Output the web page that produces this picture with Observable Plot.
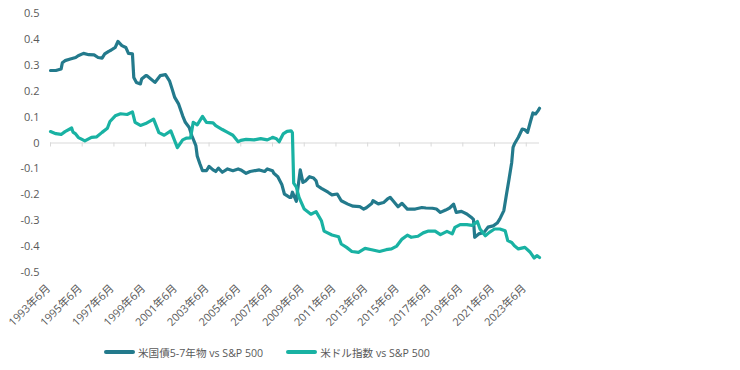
<!DOCTYPE html>
<html><head><meta charset="utf-8">
<script src="https://cdn.jsdelivr.net/npm/d3@7"></script>
<script src="https://cdn.jsdelivr.net/npm/@observablehq/plot@0.6"></script>
<style>
body{margin:0;background:#fff;font-family:"Open Sans","Noto Sans CJK JP",sans-serif;}
#legend{height:30px;display:flex;align-items:center;padding-left:104px;font-size:10.6px;color:#595959;}
.item{display:flex;align-items:center;margin-right:23px;}
.sw{width:31px;height:4px;border-radius:2px;margin-right:3px;}
</style></head><body>
<div id="chart"></div>
<div id="legend"></div>
<script>
const seriesNames = ["米国債5-7年物 vs S&P 500", "米ドル指数 vs S&P 500"];
const seriesColors = ["#237a8c", "#19b2a3"];
const xTickLabels = ["1993年6月","1995年6月","1997年6月","1999年6月","2001年6月","2003年6月","2005年6月","2007年6月","2009年6月","2011年6月","2013年6月","2015年6月","2017年6月","2019年6月","2021年6月","2023年6月"];
const yTicks = [0.5,0.4,0.3,0.2,0.1,0,-0.1,-0.2,-0.3,-0.4,-0.5];

const bondDates = ["1993-06","1993-10","1994-02","1994-03","1994-05","1994-09","1995-01","1995-03","1995-07","1995-11","1996-03","1996-06","1996-09","1996-11","1997-02","1997-04","1997-07","1997-09","1997-12","1998-03","1998-05","1998-08","1998-09","1998-11","1999-02","1999-03","1999-06","1999-07","2000-01","2000-05","2000-09","2000-12","2001-02","2001-04","2001-07","2001-10","2001-12","2002-03","2002-05","2002-08","2002-09","2002-11","2003-01","2003-04","2003-06","2003-09","2003-11","2004-01","2004-04","2004-08","2004-12","2005-04","2005-06","2005-10","2006-01","2006-08","2006-12","2007-02","2007-06","2007-07","2007-10","2008-01","2008-03","2008-04","2008-07","2008-08","2008-09","2008-12","2009-01","2009-03","2009-05","2009-07","2009-10","2010-01","2010-03","2010-04","2010-07","2010-12","2011-03","2011-07","2011-10","2012-03","2012-07","2012-12","2013-03","2013-05","2013-09","2013-10","2014-02","2014-06","2014-09","2014-11","2015-01","2015-05","2015-08","2015-12","2016-06","2016-11","2017-02","2017-07","2017-10","2018-01","2018-05","2018-08","2018-11","2019-01","2019-05","2019-09","2020-01","2020-02","2020-03","2020-06","2020-10","2021-01","2021-05","2021-08","2021-10","2022-01","2022-03","2022-05","2022-07","2022-08","2022-09","2022-12","2023-03","2023-05","2023-07","2023-09","2023-11","2024-01","2024-03","2024-04"];
const bondValues = [0.28,0.28,0.286,0.31,0.318,0.324,0.33,0.337,0.346,0.341,0.34,0.33,0.328,0.344,0.354,0.359,0.369,0.392,0.376,0.369,0.346,0.344,0.253,0.234,0.228,0.247,0.26,0.26,0.234,0.26,0.264,0.24,0.208,0.176,0.15,0.105,0.08,0.06,0.028,-0.01,-0.05,-0.08,-0.107,-0.107,-0.09,-0.104,-0.11,-0.097,-0.113,-0.1,-0.107,-0.1,-0.104,-0.117,-0.11,-0.104,-0.11,-0.1,-0.107,-0.117,-0.13,-0.16,-0.197,-0.2,-0.21,-0.21,-0.19,-0.225,-0.18,-0.104,-0.152,-0.146,-0.13,-0.135,-0.146,-0.165,-0.175,-0.19,-0.2,-0.197,-0.223,-0.236,-0.244,-0.246,-0.255,-0.25,-0.234,-0.223,-0.235,-0.23,-0.216,-0.21,-0.222,-0.246,-0.233,-0.255,-0.255,-0.249,-0.251,-0.252,-0.255,-0.268,-0.259,-0.251,-0.236,-0.268,-0.264,-0.274,-0.29,-0.295,-0.364,-0.351,-0.345,-0.325,-0.32,-0.309,-0.293,-0.261,-0.2,-0.139,-0.075,-0.017,-0.004,0.022,0.054,0.051,0.041,0.08,0.116,0.112,0.125,0.134];

const usdDates = ["1993-06","1993-10","1994-02","1994-05","1994-10","1994-11","1995-01","1995-03","1995-04","1995-08","1996-01","1996-05","1996-09","1997-01","1997-03","1997-07","1997-11","1998-04","1998-08","1998-10","1999-02","1999-06","1999-12","2000-04","2000-08","2001-01","2001-03","2001-06","2001-10","2002-01","2002-04","2002-06","2002-09","2003-01","2003-04","2003-09","2003-11","2004-04","2004-08","2004-12","2005-04","2005-06","2005-10","2006-04","2006-09","2007-02","2007-05","2007-06","2007-09","2007-11","2008-02","2008-05","2008-08","2008-09","2008-10","2008-12","2009-02","2009-06","2009-11","2010-03","2010-07","2010-09","2011-03","2011-08","2011-10","2012-02","2012-06","2012-11","2013-04","2013-09","2014-03","2014-08","2014-12","2015-04","2015-08","2015-12","2016-03","2016-08","2016-12","2017-04","2017-09","2018-01","2018-06","2018-10","2018-12","2019-04","2019-09","2020-01","2020-05","2020-07","2020-11","2021-02","2021-06","2021-10","2022-02","2022-04","2022-07","2022-09","2022-12","2023-05","2023-09","2023-12","2024-02","2024-04"];
const usdValues = [0.044,0.036,0.033,0.044,0.058,0.042,0.035,0.022,0.019,0.008,0.022,0.024,0.041,0.057,0.083,0.105,0.113,0.11,0.12,0.08,0.068,0.075,0.092,0.04,0.03,0.047,0.022,-0.018,0.012,0.019,0.02,0.08,0.07,0.103,0.08,0.078,0.067,0.052,0.041,0.03,0.005,0.01,0.014,0.012,0.017,0.012,0.019,0.022,0.016,0.005,0.035,0.045,0.047,0.04,-0.155,-0.17,-0.21,-0.255,-0.275,-0.265,-0.3,-0.34,-0.355,-0.362,-0.39,-0.403,-0.419,-0.422,-0.407,-0.412,-0.419,-0.412,-0.409,-0.398,-0.371,-0.356,-0.364,-0.36,-0.347,-0.34,-0.34,-0.354,-0.341,-0.351,-0.326,-0.315,-0.315,-0.318,-0.303,-0.332,-0.358,-0.345,-0.332,-0.332,-0.339,-0.377,-0.384,-0.397,-0.409,-0.403,-0.422,-0.444,-0.435,-0.442];

const parseMonth = d3.utcParse("%Y-%m");
const parseLabel = d3.utcParse("%Y年%m月");
const bond = bondDates.map((d, i) => ({date: parseMonth(d), value: bondValues[i]}));
const usd = usdDates.map((d, i) => ({date: parseMonth(d), value: usdValues[i]}));
const tickDates = xTickLabels.map(parseLabel);
const fmtLabel = d => `${d.getUTCFullYear()}年${d.getUTCMonth() + 1}月`;

const font = '"Open Sans","Noto Sans CJK JP",sans-serif';
const chart = Plot.plot({
  width: 740, height: 337,
  marginLeft: 50, marginRight: 201, marginTop: 13, marginBottom: 65,
  style: {fontFamily: font, fontSize: "11px", color: "#595959", background: "#fff"},
  x: {type: "utc", domain: [bond[0].date, bond[bond.length - 1].date], label: null},
  y: {domain: [-0.5, 0.5], label: null},
  marks: [
    Plot.ruleY([0], {stroke: "#d9d9d9", strokeWidth: 1}),
    Plot.ruleX(tickDates, {x: d => d, y1: 0, y2: 0, insetBottom: -4, stroke: "#d9d9d9"}),
    Plot.axisY({ticks: yTicks, tickSize: 0, tickPadding: 11, tickFormat: d => d === 0 ? "0" : d.toFixed(1), fill: "#595959"}),
    Plot.axisX({ticks: tickDates, tickSize: 0, tickPadding: 14, tickRotate: -45, tickFormat: fmtLabel, fill: "#595959", dx: -2}),
    Plot.line(bond, {x: "date", y: "value", stroke: seriesColors[0], strokeWidth: 3.2, strokeLinejoin: "round"}),
    Plot.line(usd, {x: "date", y: "value", stroke: seriesColors[1], strokeWidth: 3.2, strokeLinejoin: "round"})
  ]
});
document.getElementById("chart").appendChild(chart);

const legend = document.getElementById("legend");
seriesNames.forEach((name, i) => {
  const item = document.createElement("div");
  item.className = "item";
  const sw = document.createElement("div");
  sw.className = "sw";
  sw.style.background = seriesColors[i];
  const label = document.createElement("span");
  label.textContent = name;
  item.appendChild(sw); item.appendChild(label);
  legend.appendChild(item);
});
</script></body></html>
